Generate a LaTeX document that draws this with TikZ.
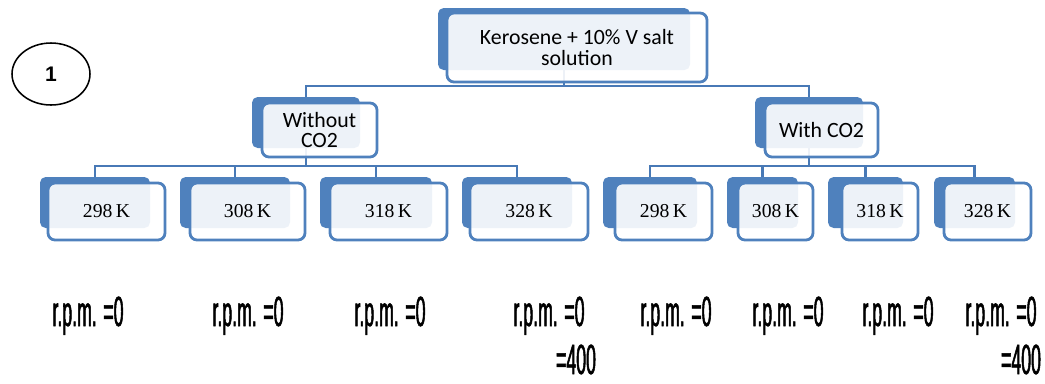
\documentclass[tikz,border=0pt]{standalone}
\usepackage{fontspec}
\setmainfont{Liberation Serif}
\newfontfamily\calib{Carlito}
\newfontfamily\arialf{Liberation Sans}
\newfontfamily\rpmfont[FakeStretch=0.42, FakeBold=1.2]{Liberation Sans}
\usepackage{xcolor}
\usepackage{tikz}
\usetikzlibrary{positioning, backgrounds, shapes.geometric}
\definecolor{boxblue}{RGB}{79,129,189}
\definecolor{linkblue}{RGB}{72,121,182}
\newcommand{\pxu}{0.025cm}

\begin{document}
\begin{tikzpicture}[
  x=\pxu, y=-\pxu,
  back/.style={rectangle, fill=boxblue, rounded corners=4pt, inner sep=0pt},
  front/.style={rectangle, draw=boxblue, line width=2pt, fill=white, fill opacity=0.9, text opacity=1, rounded corners=5pt, inner sep=0pt, align=center},
  toptext/.style={font=\calib\fontsize{15.5}{14.5}\selectfont},
  temp/.style={font=\fontsize{14}{15}\selectfont},
  link/.style={draw=linkblue, line width=1.6pt},
  rpm/.style={font=\rpmfont\fontsize{30}{30}\selectfont, inner sep=0pt, anchor=base}
]
\useasboundingbox (0,0) rectangle (1045,383);

% number mark
\node[draw, line width=1.1pt, ellipse, minimum width=78*\pxu, minimum height=62*\pxu, font=\arialf\bfseries\fontsize{15}{15}\selectfont] (num) at (51,74) {1};

% top box
\node[back, minimum width=252*\pxu, minimum height=62*\pxu] (kb) at (564,39) {};
\node[front, toptext, minimum width=260*\pxu, minimum height=69*\pxu] (kf) at (577,47.5) {Kerosene + 10\% V salt\\solution};

% second level
\node[back, minimum width=108*\pxu, minimum height=51*\pxu] (wob) at (306,122.5) {};
\node[front, toptext, minimum width=115*\pxu, minimum height=54*\pxu] (wof) at (319.5,130) {Without\\CO2};
\node[back, minimum width=108*\pxu, minimum height=51*\pxu] (wib) at (809,122.5) {};
\node[front, toptext, minimum width=113*\pxu, minimum height=54*\pxu] (wif) at (821.5,130) {With CO2};

% temperatures
\node[back, minimum width=110*\pxu, minimum height=51*\pxu] (b1) at (95,202.5) {};
\node[front, temp, minimum width=117*\pxu, minimum height=57*\pxu] (f1) at (106.5,211.5) {298\,K};
\node[back, minimum width=110*\pxu, minimum height=51*\pxu] (b2) at (235,202.5) {};
\node[front, temp, minimum width=115*\pxu, minimum height=57*\pxu] (f2) at (247.5,211.5) {308\,K};
\node[back, minimum width=112*\pxu, minimum height=51*\pxu] (b3) at (376,202.5) {};
\node[front, temp, minimum width=117*\pxu, minimum height=57*\pxu] (f3) at (388.5,211.5) {318\,K};
\node[back, minimum width=110*\pxu, minimum height=51*\pxu] (b4) at (517,202.5) {};
\node[front, temp, minimum width=118*\pxu, minimum height=57*\pxu] (f4) at (529,211.5) {328\,K};
\node[back, minimum width=94*\pxu, minimum height=51*\pxu] (b5) at (650,202.5) {};
\node[front, temp, minimum width=97*\pxu, minimum height=57*\pxu] (f5) at (663.5,211.5) {298\,K};
\node[back, minimum width=71*\pxu, minimum height=51*\pxu] (b6) at (762.5,202.5) {};
\node[front, temp, minimum width=75*\pxu, minimum height=57*\pxu] (f6) at (775.5,211.5) {308\,K};
\node[back, minimum width=75*\pxu, minimum height=51*\pxu] (b7) at (865.5,202.5) {};
\node[front, temp, minimum width=76*\pxu, minimum height=57*\pxu] (f7) at (880,211.5) {318\,K};
\node[back, minimum width=81*\pxu, minimum height=51*\pxu] (b8) at (974.5,202.5) {};
\node[front, temp, minimum width=87*\pxu, minimum height=57*\pxu] (f8) at (987.5,211.5) {328\,K};

% connectors behind the boxes
\coordinate (bus0) at (0,86);
\coordinate (bus1) at (0,166);
\begin{pgfonlayer}{background}
\draw[link] (kb.south) -- (kb.south |- bus0) -| (wob.north);
\draw[link] (kb.south |- bus0) -| (wib.north);
\draw[link] (wob.south) -- (wob.south |- bus1) -| (b1.north);
\draw[link] (wob.south |- bus1) -| (b2.north);
\draw[link] (wob.south |- bus1) -| (b3.north);
\draw[link] (wob.south |- bus1) -| (b4.north);
\draw[link] (wib.south) -- (wib.south |- bus1) -| (b5.north);
\draw[link] (wib.south |- bus1) -| (b6.north);
\draw[link] (wib.south |- bus1) -| (b7.north);
\draw[link] (wib.south |- bus1) -| (b8.north);
\end{pgfonlayer}

% speeds
\node[rpm] (r1) at (88,326) {r.p.m. =0};
\node[rpm] (r2) at (248,326) {r.p.m. =0};
\node[rpm] (r3) at (390,326) {r.p.m. =0};
\node[rpm] (r4) at (549,326) {r.p.m. =0};
\node[rpm] (r4b) at (576,374) {=400};
\node[rpm] (r5) at (676,326) {r.p.m. =0};
\node[rpm] (r6) at (788,326) {r.p.m. =0};
\node[rpm] (r7) at (898,326) {r.p.m. =0};
\node[rpm] (r8) at (1001,326) {r.p.m. =0};
\node[rpm] (r8b) at (1021,374) {=400};
\end{tikzpicture}
\end{document}
